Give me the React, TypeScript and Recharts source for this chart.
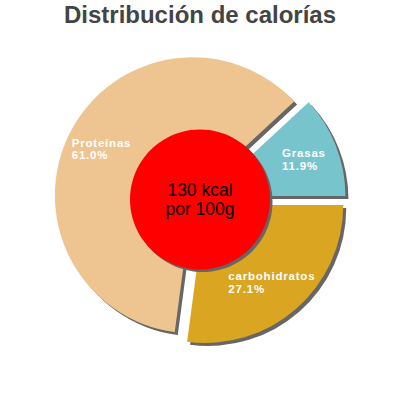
import React from 'react';
import { PieChart, Pie, Cell, Sector, Label } from 'recharts';

const names = ['Grasas', 'Proteínas', 'carbohidratos'];
const percents = [11.9, 61.0, 27.1];
const colors = ['#78c4cd', '#eec591', '#daa520'];
const centerLines = ['130 kcal', 'por 100g'];

const data = names.map((name, i) => ({ name, value: percents[i] }));

const RAD = Math.PI / 180;
const EXPLODE = 8;
const SHADOW = '#666666';
const FONT = 'Arial, "Liberation Sans", sans-serif';

const explodedCenter = (cx: number, cy: number, midAngle: number) => ({
  x: cx + EXPLODE * Math.cos(-midAngle * RAD),
  y: cy + EXPLODE * Math.sin(-midAngle * RAD),
});

const sliceShape = (dx: number, dy: number, shadow: boolean) => (props: any) => {
  const { cx, cy, midAngle, innerRadius, outerRadius, startAngle, endAngle, fill } = props;
  const c = explodedCenter(cx, cy, midAngle);
  return (
    <Sector
      cx={c.x + dx}
      cy={c.y + dy}
      innerRadius={innerRadius}
      outerRadius={outerRadius}
      startAngle={startAngle}
      endAngle={endAngle}
      fill={shadow ? SHADOW : fill}
      stroke="none"
    />
  );
};

const renderLabel = (props: any) => {
  const { cx, cy, midAngle, index } = props;
  const c = explodedCenter(cx, cy, midAngle);
  const r = 102;
  const x = c.x + r * Math.cos(-midAngle * RAD);
  const y = c.y + r * Math.sin(-midAngle * RAD);
  const w = names[index].length * 6.8;
  return (
    <text
      x={x - w / 2}
      y={y}
      fill="#fff"
      fontSize={11.5}
      fontWeight="bold"
      letterSpacing={0.8}
      fontFamily={FONT}
    >
      <tspan x={x - w / 2} dy={-1.5}>{names[index]}</tspan>
      <tspan x={x - w / 2} dy={12.5}>{percents[index].toFixed(1)}%</tspan>
    </text>
  );
};

const centerLabel = (props: any) => {
  const { viewBox } = props;
  const cx = viewBox?.cx ?? 200;
  const cy = viewBox?.cy ?? 200;
  return (
    <text x={cx} y={cy} textAnchor="middle" fill="#000" fontSize={17.5} fontFamily={FONT}>
      <tspan x={cx} dy={-4}>{centerLines[0]}</tspan>
      <tspan x={cx} dy={18.5}>{centerLines[1]}</tspan>
    </text>
  );
};

export default function App() {
  return (
    <div style={{ position: 'absolute', left: 0, top: 0, width: 400, height: 400, background: '#fff' }}>
      <div
        style={{
          position: 'absolute',
          left: 0,
          top: 0,
          width: 400,
          textAlign: 'center',
          fontFamily: FONT,
          fontWeight: 'bold',
          fontSize: 24,
          lineHeight: '30px',
          color: '#444',
        }}
      >
        Distribución de calorías
      </div>
      <PieChart width={400} height={400} margin={{ top: 0, right: 0, bottom: 0, left: 0 }}>
        <Pie
          data={data}
          dataKey="value"
          cx={200}
          cy={199}
          outerRadius={138}
          isAnimationActive={false}
          shape={sliceShape(3, 3, true)}
        >
          {data.map((d) => (
            <Cell key={d.name} fill={SHADOW} />
          ))}
        </Pie>
        <Pie
          data={data}
          dataKey="value"
          cx={200}
          cy={199}
          outerRadius={138}
          isAnimationActive={false}
          shape={sliceShape(0, 0, false)}
          label={renderLabel}
          labelLine={false}
        >
          {data.map((d, i) => (
            <Cell key={d.name} fill={colors[i]} />
          ))}
        </Pie>
        <Pie
          data={[{ name: 'sombra', value: 1 }]}
          dataKey="value"
          cx={202.5}
          cy={202}
          outerRadius={70}
          fill={SHADOW}
          stroke="none"
          isAnimationActive={false}
        />
        <Pie
          data={[{ name: 'kcal', value: 1 }]}
          dataKey="value"
          cx={200}
          cy={199.5}
          outerRadius={70}
          fill="#ff0000"
          stroke="none"
          isAnimationActive={false}
        >
          <Label content={centerLabel} position="center" />
        </Pie>
      </PieChart>
    </div>
  );
}
